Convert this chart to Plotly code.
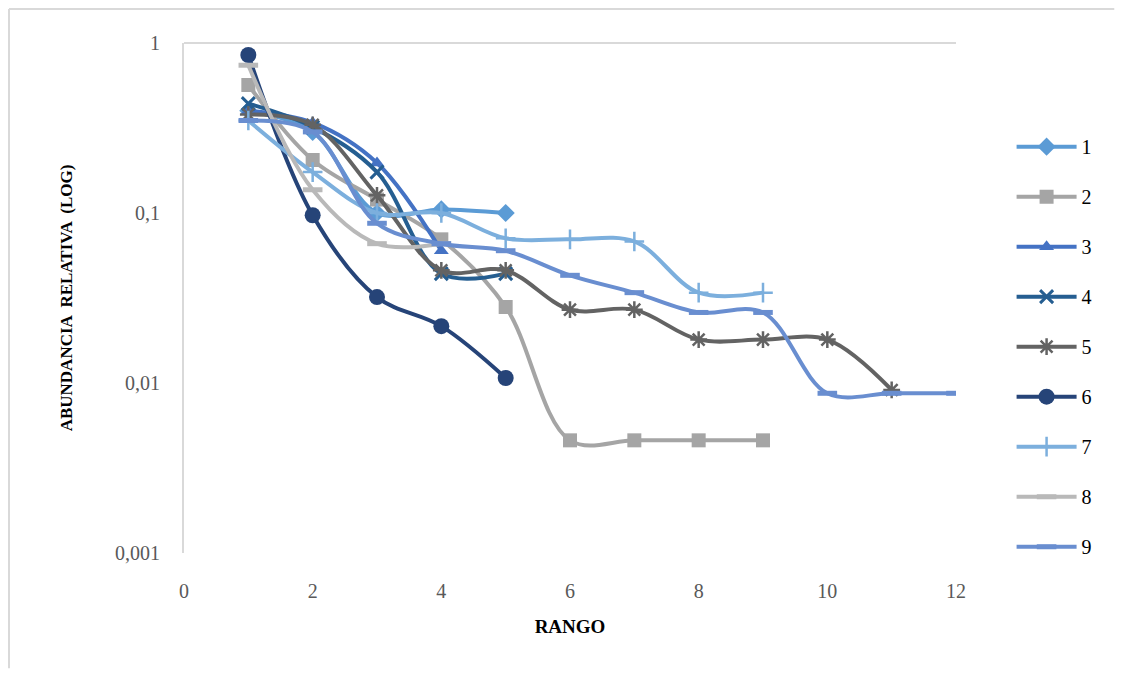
import plotly.graph_objects as go

rank = list(range(1, 13))
names = ["1", "2", "3", "4", "5", "6", "7", "8", "9"]
s1 = [0.40, 0.30, 0.10, 0.105, 0.10]
s2 = [0.566, 0.205, 0.12, 0.07, 0.028, 0.0046, 0.0046, 0.0046, 0.0046]
s3 = [0.40, 0.34, 0.197, 0.06]
s4 = [0.44, 0.32, 0.174, 0.044, 0.044]
s5 = [0.38, 0.33, 0.127, 0.046, 0.046, 0.027, 0.027, 0.018, 0.018, 0.018, 0.0091]
s6 = [0.85, 0.097, 0.032, 0.0216, 0.0107]
s7 = [0.35, 0.174, 0.10, 0.10, 0.071, 0.07, 0.068, 0.034, 0.034]
s8 = [0.74, 0.137, 0.066, 0.066]
s9 = [0.35, 0.30, 0.087, 0.066, 0.06, 0.043, 0.034, 0.026, 0.026, 0.0087, 0.0087, 0.0087]
series = [s1, s2, s3, s4, s5, s6, s7, s8, s9]

y_tickvals = [0.001, 0.01, 0.1, 1]
y_ticktext = ["0,001", "0,01", "0,1", "1"]
x_tickvals = [0, 2, 4, 6, 8, 10, 12]

colors = ["#5B9BD5", "#A5A5A5", "#4472C4", "#255E91", "#636363",
          "#264478", "#7CAFDD", "#B9B9B9", "#698ED0"]
markers = [
    dict(symbol="diamond", size=14),
    dict(symbol="square", size=14),
    dict(symbol="triangle-up", size=13),
    dict(symbol="x-thin-open", size=13, line=dict(width=3)),
    dict(symbol="asterisk-open", size=14, line=dict(width=2.5)),
    dict(symbol="circle", size=16),
    dict(symbol="cross-thin-open", size=14, line=dict(width=2.5)),
    dict(symbol="line-ew-open", size=14, line=dict(width=5)),
    dict(symbol="line-ew-open", size=14, line=dict(width=5)),
]

fig = go.Figure()
for i, (nm, vals) in enumerate(zip(names, series)):
    m = dict(markers[i])
    m["color"] = colors[i]
    ln = dict(m.get("line", {}))
    ln["color"] = colors[i]
    if "width" not in ln:
        ln["width"] = 0
    m["line"] = ln
    fig.add_trace(go.Scatter(
        x=rank[:len(vals)], y=vals, name=nm, mode="lines+markers",
        line=dict(color=colors[i], width=4, shape="spline", smoothing=1.0),
        marker=m, legendgroup=nm,
    ))

serif = "Liberation Serif, Times New Roman, serif"
fig.update_layout(
    width=1108, height=662,
    margin=dict(l=176, r=160, t=35, b=117),
    paper_bgcolor="white", plot_bgcolor="white",
    font=dict(family=serif, size=17, color="#595959"),
    showlegend=True,
    legend=dict(x=1.072, xanchor="left", y=0.835, yanchor="top",
                font=dict(family=serif, size=20, color="#000000"),
                tracegroupgap=21, itemwidth=60),
    xaxis=dict(range=[0, 12], tickvals=x_tickvals, showgrid=False, zeroline=False,
               showline=False, ticks="outside", ticklen=20, tickcolor="rgba(0,0,0,0)",
               tickfont=dict(family=serif, size=20, color="#595959"),
               title=dict(text="<b>RANGO</b>", font=dict(family=serif, size=19, color="#000000"),
                          standoff=18)),
    yaxis=dict(type="log", range=[-3, 0], tickvals=y_tickvals, ticktext=y_ticktext,
               showgrid=False, zeroline=False, showline=True, linecolor="#D9D9D9", linewidth=2,
               ticks="outside", ticklen=18, tickcolor="rgba(0,0,0,0)",
               tickfont=dict(family=serif, size=20, color="#595959"),
               title=dict(text="<b>ABUNDANCIA  RELATIVA  (LOG)</b>",
                          font=dict(family=serif, size=17, color="#000000"), standoff=38)),
    shapes=[
        dict(type="line", xref="paper", yref="paper", x0=0, x1=1, y0=1, y1=1,
             line=dict(color="#D9D9D9", width=2), layer="below"),
        dict(type="line", xref="paper", yref="paper", x0=-0.2267, x1=1.205, y0=1.0667, y1=1.0667,
             line=dict(color="#D9D9D9", width=2), layer="below"),
        dict(type="line", xref="paper", yref="paper", x0=-0.2267, x1=-0.2267, y0=-0.226, y1=1.0667,
             line=dict(color="#D9D9D9", width=2), layer="below"),
    ],
)

fig.write_html("out.html")
